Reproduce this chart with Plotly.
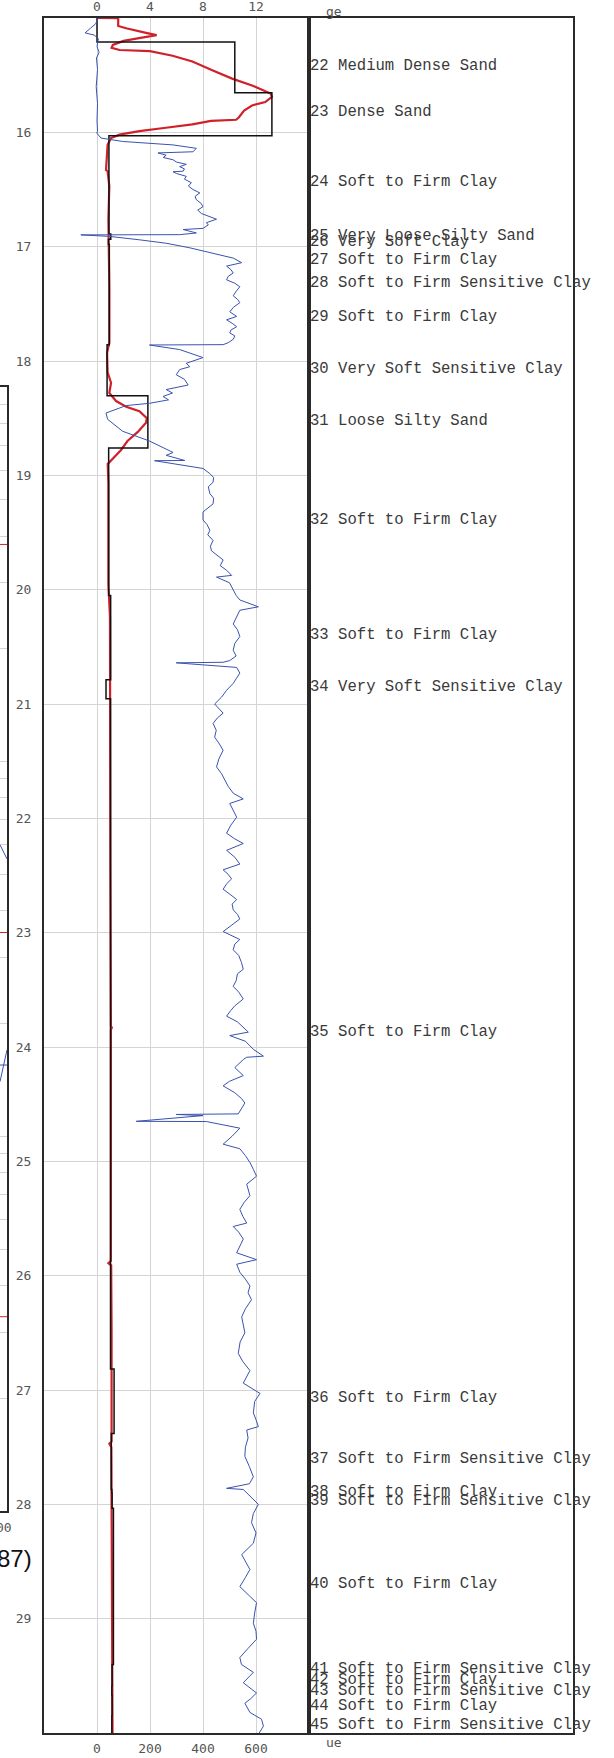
import plotly.graph_objects as go

W, H = 614, 1758

# ---------------- data ----------------
red_depth = [15.00, 15.001, 15.07, 15.09, 15.13, 15.15, 15.17, 15.20, 15.235, 15.26, 15.28, 15.29, 15.33, 15.38,
             15.456, 15.53, 15.59, 15.63, 15.66, 15.69, 15.735, 15.765, 15.81, 15.87, 15.89, 15.90, 15.93, 15.96,
             15.99, 16.02, 16.05, 16.11, 16.18, 16.33, 16.34, 16.47, 16.76, 16.90, 17.0, 17.35, 17.84, 17.93,
             18.10, 18.19, 18.28, 18.35, 18.40, 18.44, 18.50, 18.54, 18.62, 18.70, 18.78, 18.85, 18.90, 19.07,
             19.95, 20.24, 20.82, 21.70, 22.43, 23.82, 23.83, 23.85, 25.0, 25.87, 25.89, 25.91, 26.5, 27.45,
             27.47, 27.5, 28.5, 29.5, 30.0]
red_val = [0.05, 1.6, 1.6, 2.2, 3.7, 4.5, 3.5, 2.0, 1.2, 1.1, 1.7, 4.0, 5.7, 7.2,
           8.7, 10.2, 11.7, 12.5, 13.1, 13.2, 12.7, 11.7, 11.1, 10.7, 10.5, 8.6, 7.2, 5.2,
           3.2, 1.7, 1.06, 0.8, 0.76, 0.68, 0.8, 0.93, 0.86, 0.88, 0.93, 0.93, 0.93, 0.76,
           0.8, 1.06, 0.93, 1.44, 2.2, 3.2, 3.76, 3.7, 3.08, 2.3, 1.8, 1.19, 0.81, 0.86,
           0.86, 0.98, 0.98, 1.01, 1.01, 1.05, 1.12, 1.05, 1.08, 1.05, 0.86, 1.07, 1.1, 1.1,
           0.93, 1.08, 1.12, 1.15, 1.17]

blue_depth = [15.00, 15.05, 15.09, 15.13, 15.15, 15.18, 15.25, 15.30, 15.35, 15.45, 15.60, 15.75, 15.90, 15.99,
              16.006, 16.05, 16.08, 16.11, 16.14, 16.17, 16.18, 16.20, 16.22, 16.24, 16.26, 16.28, 16.30, 16.32,
              16.34, 16.345, 16.36, 16.385, 16.41, 16.44, 16.47, 16.50, 16.53, 16.56, 16.59, 16.62, 16.65, 16.68,
              16.71, 16.735, 16.76, 16.79, 16.81, 16.84, 16.85, 16.88, 16.895, 16.897,
              16.91, 16.94, 16.97, 17.01, 17.055, 17.10, 17.14, 17.17, 17.20, 17.23, 17.26, 17.29, 17.32, 17.35,
              17.39, 17.43, 17.46, 17.49, 17.53, 17.57, 17.61, 17.64, 17.67, 17.70, 17.73, 17.755, 17.78, 17.81,
              17.84, 17.857, 17.86, 17.90, 17.97, 18.02, 18.05, 18.075, 18.12, 18.16, 18.21, 18.25,
              18.28, 18.31, 18.34, 18.37, 18.39, 18.455, 18.51, 18.615, 18.70, 18.80, 18.825, 18.87, 18.872, 18.94,
              18.985, 19.02, 19.06, 19.10, 19.16, 19.20, 19.25, 19.32, 19.39, 19.43, 19.48, 19.52, 19.57, 19.62,
              19.66, 19.70, 19.74, 19.79, 19.83, 19.875, 19.89, 19.94, 20.0, 20.05, 20.09, 20.15,
              20.18, 20.24, 20.30, 20.35, 20.41, 20.47, 20.53, 20.58, 20.62, 20.635, 20.64, 20.68, 20.73, 20.78,
              20.82, 20.88, 20.94, 21.0, 21.04, 21.08, 21.12, 21.17, 21.23,
              21.29, 21.35, 21.405, 21.48, 21.55, 21.61, 21.67, 21.72, 21.78, 21.83, 21.87, 21.93, 21.99, 22.06,
              22.13, 22.18, 22.22, 22.28, 22.34, 22.40, 22.45, 22.49, 22.53, 22.57,
              22.62, 22.67, 22.71, 22.75, 22.80, 22.84, 22.88, 22.94, 22.99, 23.06, 23.10, 23.15, 23.20, 23.26,
              23.32, 23.36, 23.42, 23.47, 23.52, 23.58, 23.64, 23.68, 23.73, 23.78, 23.84, 23.87, 23.90, 23.95,
              24.02, 24.08, 24.09, 24.11, 24.18, 24.25, 24.30, 24.34, 24.40, 24.45, 24.49, 24.585, 24.59, 24.60,
              24.65, 24.652, 24.71, 24.78, 24.85, 24.89, 24.95,
              25.01, 25.07, 25.13, 25.20, 25.25, 25.30, 25.36, 25.42, 25.48, 25.54, 25.57, 25.62, 25.68, 25.74,
              25.80, 25.86, 25.90, 25.97, 26.03, 26.09, 26.15, 26.21,
              26.29, 26.36, 26.43, 26.50, 26.58, 26.68, 26.75, 26.83, 26.94, 27.03, 27.10, 27.20, 27.26, 27.32,
              27.35, 27.42, 27.50, 27.58, 27.67, 27.76, 27.82, 27.86, 27.87, 27.93,
              28.00, 28.08, 28.16, 28.25, 28.34, 28.44, 28.50, 28.57, 28.64, 28.72, 28.80, 28.86, 28.95, 29.04,
              29.11, 29.18, 29.26, 29.34, 29.40, 29.47, 29.56, 29.65, 29.70, 29.74,
              29.82, 29.88, 29.94, 30.0]
blue_val = [5, -5, -25, -45, -10, 5, 0, 8, -2, 2, -3, 2, 0, 2,
            -1, 15, 97, 287, 375, 362, 230, 261, 250, 287, 300, 337, 312, 330,
            325, 287, 300, 337, 330, 356, 345, 362, 388, 370, 375, 392, 400, 380,
            394, 426, 451, 413, 420, 400, 325, 375, 312, -61,
            47, 160, 261, 350, 438, 514, 546, 489, 505, 514, 495, 489, 520, 539,
            525, 514, 530, 539, 515, 501, 527, 489, 510, 527, 505, 501, 520, 514,
            495, 476, 198, 312, 400, 337, 350, 312, 299, 330, 344, 261,
            285, 249, 270, 198, 110, 34, 40, 97, 198, 287, 261, 331, 217, 400,
            426, 440, 438, 420, 426, 440, 438, 400, 400, 415, 426, 418, 438, 428,
            432, 455, 476, 465, 489, 508, 451, 500, 514, 525, 539, 609,
            539, 525, 514, 530, 539, 520, 514, 525, 501, 476, 299, 527, 539, 525,
            514, 489, 470, 444, 460, 476, 455, 438, 450,
            444, 462, 476, 460, 451, 470, 482, 495, 514, 552, 501, 515, 527, 505,
            489, 520, 552, 489, 520, 539, 476, 495, 508, 490,
            476, 505, 527, 510, 514, 530, 539, 505, 476, 539, 520, 514, 535, 545,
            552, 530, 525, 514, 535, 552, 520, 505, 489, 530, 560, 571, 501, 560,
            590, 628, 565, 552, 520, 552, 500, 476, 520, 545, 558, 533, 299, 400,
            148, 413, 539, 510, 476, 539, 560,
            577, 590, 602, 565, 570, 577, 555, 539, 550, 565, 514, 535, 552, 540,
            527, 602, 527, 539, 560, 577, 570, 583,
            560, 546, 552, 558, 540, 533, 550, 577, 552, 615, 595, 590, 600, 609,
            565, 570, 560, 558, 575, 590, 575, 489, 552, 577,
            609, 590, 583, 600, 590, 546, 560, 577, 560, 539, 575, 602, 595, 590,
            600, 602, 570, 539, 545, 590, 552, 602, 580, 558,
            577, 621, 628, 612]

layer_top = [14.9, 15.21, 15.653, 16.03, 16.89, 16.935, 16.98, 17.25, 17.39, 17.857, 18.303, 18.761,
             20.05, 20.787, 20.953, 26.816, 27.38, 27.87, 27.90, 28.035, 29.40, 29.48, 29.59, 29.67, 29.85]
layer_val = [0.0, 10.4, 13.2, 0.9, 1.04, 0.86, 0.93, 0.93, 0.93, 0.76, 3.84, 0.88,
             1.03, 0.68, 1.02, 1.29, 1.08, 1.12, 1.14, 1.24, 1.14, 1.14, 1.12, 1.14, 1.12]
layer_bottom = 30.05

label_depth = [15.417, 15.82, 16.436, 16.907, 16.955, 17.113, 17.318, 17.611, 18.074, 18.524, 19.394,
               20.396, 20.854, 23.865, 27.069, 27.6, 27.888, 27.97, 28.70, 29.44, 29.535, 29.63, 29.76, 29.93]
label_text = ["22 Medium Dense Sand", "23 Dense Sand", "24 Soft to Firm Clay", "25 Very Loose Silty Sand",
              "26 Very Soft Clay", "27 Soft to Firm Clay", "28 Soft to Firm Sensitive Clay",
              "29 Soft to Firm Clay", "30 Very Soft Sensitive Clay", "31 Loose Silty Sand",
              "32 Soft to Firm Clay", "33 Soft to Firm Clay", "34 Very Soft Sensitive Clay",
              "35 Soft to Firm Clay", "36 Soft to Firm Clay", "37 Soft to Firm Sensitive Clay",
              "38 Soft to Firm Clay", "39 Soft to Firm Sensitive Clay", "40 Soft to Firm Clay",
              "41 Soft to Firm Sensitive Clay", "42 Soft to Firm Clay", "43 Soft to Firm Sensitive Clay",
              "44 Soft to Firm Clay", "45 Soft to Firm Sensitive Clay"]

depth_ticks = list(range(16, 30))
top_ticks = [0, 4, 8, 12]
bottom_ticks = [0, 200, 400, 600]

# partial chart at the left edge (cut off in the reference)
part_red_y = [380, 35, 3.3]
part_blue_y = [(60, 55), (14, 17), (15.5, 15.5)]

# ---------------- figure ----------------
def px_x(p):
    return p / W

def px_y(p):
    return 1 - p / H

main_dom_x = [px_x(44), px_x(309)]
box_dom_x = [px_x(309), px_x(573)]
dom_y = [px_y(1733), px_y(18)]

fig = go.Figure()

step_x = layer_val + [layer_val[-1]]
step_y = layer_top + [layer_bottom]
fig.add_trace(go.Scatter(x=blue_val, y=blue_depth, mode="lines", line=dict(color="#3a52b0", width=1),
                         xaxis="x3", yaxis="y", showlegend=False))
fig.add_trace(go.Scatter(x=red_val, y=red_depth, mode="lines", line=dict(color="#d0212b", width=2.2),
                         xaxis="x", yaxis="y", showlegend=False))
fig.add_trace(go.Scatter(x=step_x, y=step_y, mode="lines", line=dict(color="#111111", width=1.5, shape="vh"),
                         xaxis="x", yaxis="y", showlegend=False))

for yv in part_red_y:
    fig.add_trace(go.Scatter(x=[0, 1], y=[yv, yv], mode="lines", line=dict(color="#d0212b", width=1),
                             xaxis="x4", yaxis="y4", showlegend=False))
for y0, y1 in part_blue_y:
    fig.add_trace(go.Scatter(x=[0, 1], y=[y0, y1], mode="lines", line=dict(color="#3a52b0", width=1),
                             xaxis="x4", yaxis="y4", showlegend=False))

tick_font = dict(family="DejaVu Sans Mono", size=13, color="#555555")
grid_col = "#d4d4d4"
line_col = "#2a2a2a"

annotations = []
for d, t in zip(label_depth, label_text):
    annotations.append(dict(x=0, y=d, xref="x2 domain", yref="y2", text=t, showarrow=False,
                            xanchor="left", yanchor="middle", xshift=-1,
                            font=dict(family="Liberation Mono", size=15.6, color="#3a3a3a")))
annotations.append(dict(x=px_x(324), y=px_y(12), xref="paper", yref="paper", text="ge", showarrow=False,
                        xanchor="left", yanchor="middle", font=tick_font))
annotations.append(dict(x=px_x(324), y=px_y(1742), xref="paper", yref="paper", text="ue", showarrow=False,
                        xanchor="left", yanchor="middle", font=tick_font))
annotations.append(dict(x=px_x(14), y=px_y(1527), xref="paper", yref="paper", text="00", showarrow=False,
                        xanchor="right", yanchor="middle", font=tick_font))
annotations.append(dict(x=px_x(34), y=px_y(1558), xref="paper", yref="paper", text="87)", showarrow=False,
                        xanchor="right", yanchor="middle", font=dict(family="Liberation Sans", size=24, color="#111111")))

fig.update_layout(
    width=W, height=H, margin=dict(l=0, r=0, t=0, b=0),
    paper_bgcolor="white", plot_bgcolor="white",
    xaxis=dict(domain=main_dom_x, range=[-4, 16], side="top", tickvals=top_ticks, anchor="y",
               showgrid=True, gridcolor=grid_col, gridwidth=1, zeroline=False,
               showline=True, linecolor=line_col, linewidth=2, mirror=True, ticks="",
               tickfont=tick_font),
    xaxis3=dict(range=[-200, 800], side="bottom", overlaying="x", tickvals=bottom_ticks, anchor="y",
                showgrid=False, zeroline=False, showline=False, ticks="", ticklabelstandoff=6,
                tickfont=tick_font),
    yaxis=dict(domain=dom_y, range=[30, 15], tickvals=depth_ticks, anchor="x",
               showgrid=True, gridcolor=grid_col, gridwidth=1, zeroline=False,
               showline=True, linecolor=line_col, linewidth=2, mirror=True, ticks="",
               ticklabelstandoff=8, tickfont=tick_font),
    xaxis2=dict(domain=box_dom_x, range=[0, 1], anchor="y2", showgrid=False, zeroline=False,
                showticklabels=False, showline=True, linecolor=line_col, linewidth=2, mirror=True, ticks=""),
    yaxis2=dict(domain=dom_y, range=[30, 15], anchor="x2", matches="y", showgrid=False, zeroline=False,
                showticklabels=False, showline=True, linecolor=line_col, linewidth=2, mirror=True, ticks=""),
    xaxis4=dict(domain=[0, px_x(7)], range=[0, 1], anchor="y4", showgrid=False, zeroline=False,
                showticklabels=False, showline=True, linecolor=line_col, linewidth=2, mirror=True, ticks=""),
    yaxis4=dict(domain=[px_y(1511), px_y(387)], type="log", range=[0, 3], anchor="x4", dtick="D1",
                showgrid=True, gridcolor=grid_col, zeroline=False, showticklabels=False,
                showline=True, linecolor=line_col, linewidth=2, mirror=True, ticks=""),
    annotations=annotations,
)

fig.write_html("out.html", config={"displayModeBar": False},
               post_script="document.body.style.margin='0px';document.body.style.padding='0px';")
